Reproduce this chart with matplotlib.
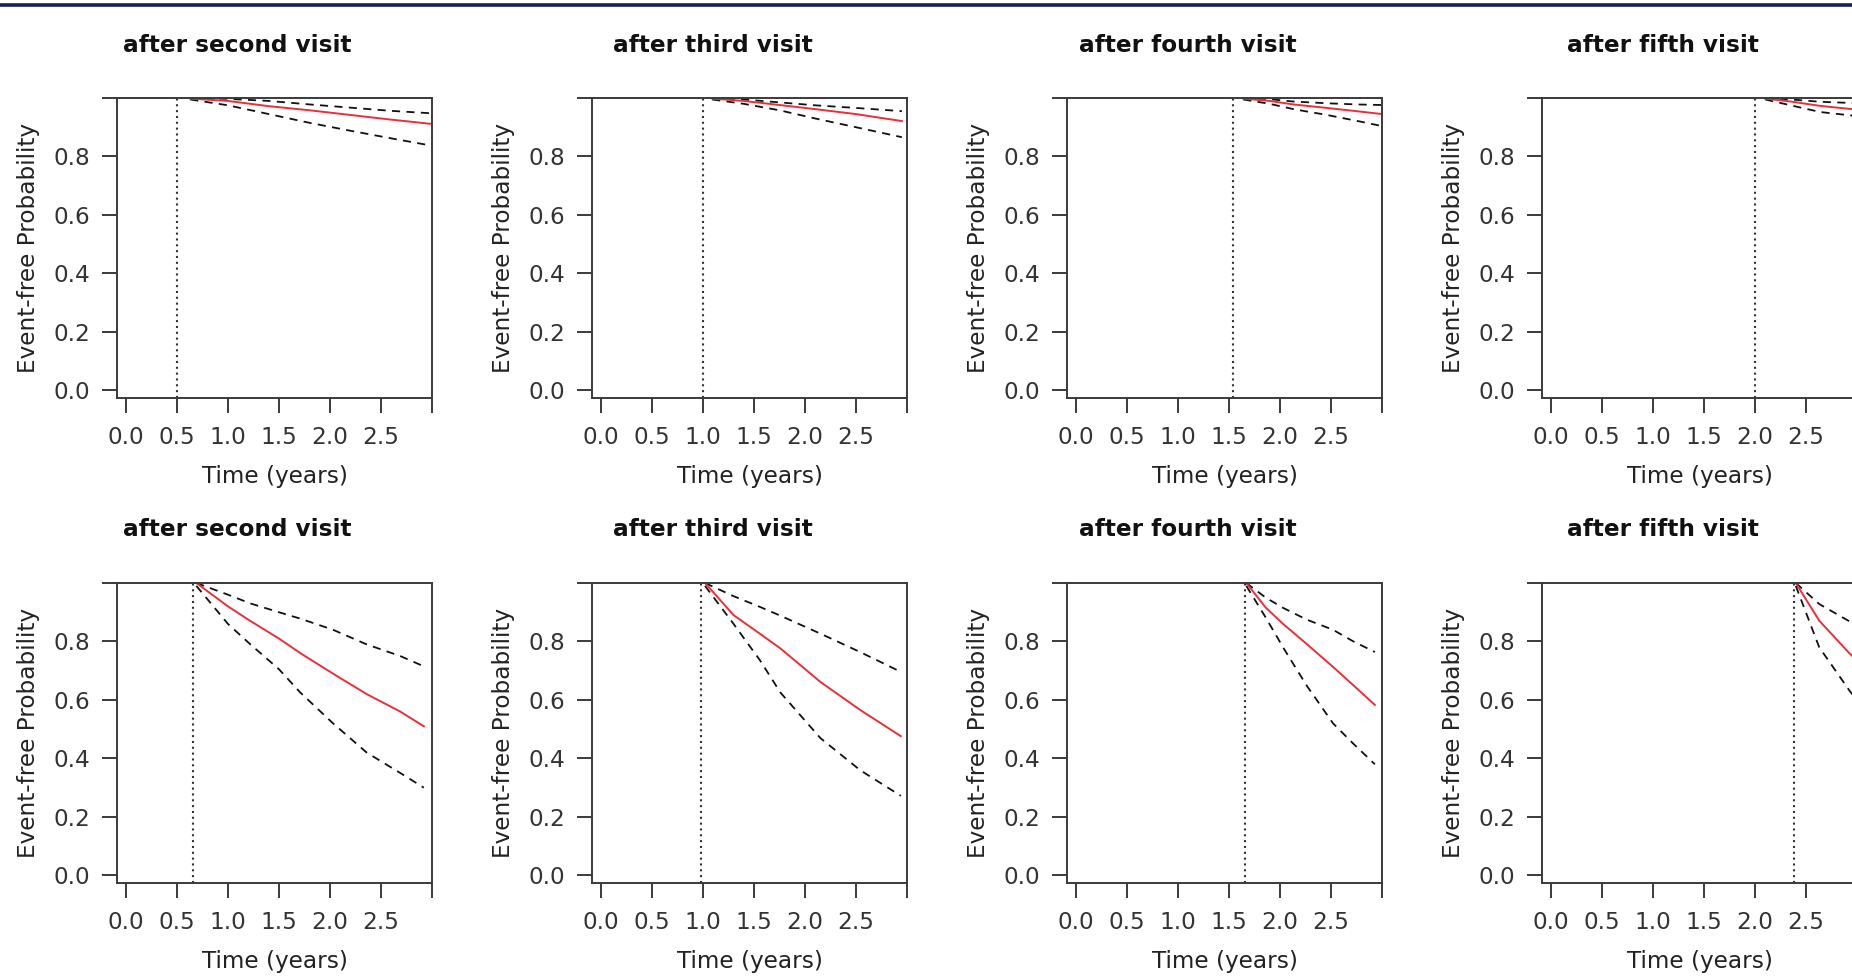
import matplotlib
matplotlib.use("Agg")
import matplotlib.pyplot as plt
from matplotlib.lines import Line2D

W, H = 1852, 977

titles = ["after second visit", "after third visit", "after fourth visit", "after fifth visit"]
xticks = [0.0, 0.5, 1.0, 1.5, 2.0, 2.5, 3.0]
xticklabels = ["0.0", "0.5", "1.0", "1.5", "2.0", "2.5", ""]
yticks = [0.0, 0.2, 0.4, 0.6, 0.8, 1.0]
yticklabels = ["0.0", "0.2", "0.4", "0.6", "0.8", ""]

# landmark (visit) times, dotted vertical lines
top_visit = [0.5, 1.0, 1.54, 2.0]
bottom_visit = [0.66, 0.985, 1.66, 2.38]

# top row: time, estimate, upper, lower
t_top1 = [0.63, 1.0, 1.4, 1.8, 2.2, 2.6, 2.98]
est_top1 = [0.998, 0.99, 0.972, 0.958, 0.942, 0.926, 0.912]
up_top1 = [1.0, 0.997, 0.99, 0.978, 0.967, 0.956, 0.948]
lo_top1 = [0.995, 0.975, 0.945, 0.915, 0.888, 0.862, 0.838]

t_top2 = [1.09, 1.4, 1.75, 2.1, 2.5, 2.95]
est_top2 = [0.998, 0.99, 0.976, 0.962, 0.945, 0.921]
up_top2 = [1.0, 0.995, 0.985, 0.975, 0.966, 0.955]
lo_top2 = [0.995, 0.98, 0.958, 0.93, 0.9, 0.866]

t_top3 = [1.64, 1.9, 2.13, 2.46, 2.75, 3.0]
est_top3 = [0.998, 0.99, 0.978, 0.966, 0.955, 0.945]
up_top3 = [1.0, 0.996, 0.988, 0.982, 0.978, 0.976]
lo_top3 = [0.995, 0.98, 0.962, 0.942, 0.922, 0.904]

t_top4 = [2.1, 2.35, 2.64, 2.95, 3.0]
est_top4 = [0.998, 0.988, 0.973, 0.962, 0.96]
up_top4 = [1.0, 0.995, 0.987, 0.983, 0.982]
lo_top4 = [0.995, 0.975, 0.952, 0.94, 0.937]

# bottom row
t_bot1 = [0.69, 1.0, 1.22, 1.5, 1.71, 2.03, 2.36, 2.69, 2.92]
est_bot1 = [1.0, 0.92, 0.87, 0.81, 0.76, 0.69, 0.62, 0.56, 0.51]
up_bot1 = [1.0, 0.96, 0.93, 0.9, 0.878, 0.84, 0.79, 0.75, 0.715]
lo_bot1 = [0.99, 0.86, 0.79, 0.705, 0.625, 0.52, 0.42, 0.35, 0.3]

t_bot2 = [1.02, 1.3, 1.56, 1.76, 2.15, 2.54, 2.94]
est_bot2 = [1.0, 0.89, 0.826, 0.776, 0.662, 0.566, 0.476]
up_bot2 = [1.0, 0.955, 0.918, 0.888, 0.827, 0.764, 0.696]
lo_bot2 = [0.99, 0.86, 0.735, 0.625, 0.47, 0.36, 0.272]

t_bot3 = [1.67, 1.86, 2.03, 2.26, 2.52, 2.72, 2.93]
est_bot3 = [1.0, 0.916, 0.86, 0.792, 0.713, 0.65, 0.583]
up_bot3 = [1.0, 0.95, 0.915, 0.875, 0.84, 0.8, 0.764]
lo_bot3 = [0.99, 0.882, 0.78, 0.65, 0.52, 0.45, 0.38]

t_bot4 = [2.4, 2.63, 2.93, 3.0]
est_bot4 = [1.0, 0.871, 0.758, 0.735]
up_bot4 = [1.0, 0.928, 0.868, 0.855]
lo_bot4 = [0.99, 0.78, 0.63, 0.6]

rows = [
    (top_visit, [(t_top1, est_top1, up_top1, lo_top1), (t_top2, est_top2, up_top2, lo_top2),
                 (t_top3, est_top3, up_top3, lo_top3), (t_top4, est_top4, up_top4, lo_top4)]),
    (bottom_visit, [(t_bot1, est_bot1, up_bot1, lo_bot1), (t_bot2, est_bot2, up_bot2, lo_bot2),
                    (t_bot3, est_bot3, up_bot3, lo_bot3), (t_bot4, est_bot4, up_bot4, lo_bot4)]),
]

plt.rcParams["font.family"] = "DejaVu Sans"
fs = 16.7
axcol = "#3a3a3a"
txtcol = "#333333"

fig = plt.figure(figsize=(W / 100, H / 100), dpi=100)
fig.patch.set_facecolor("white")

# navy rule at the top
fig.add_artist(Line2D([0, 1], [1 - 5 / H, 1 - 5 / H], color="#15205a", lw=2.6,
                      transform=fig.transFigure))

box_left = [117, 592, 1067, 1542]
box_top = [98, 583]
bw, bh = 315, 300

for r, (visits, panels) in enumerate(rows):
    for c, (t, est, up, lo) in enumerate(panels):
        x0 = box_left[c]
        y0 = box_top[r]
        ax = fig.add_axes([x0 / W, 1 - (y0 + bh) / H, bw / W, bh / H])
        ax.set_xlim(-0.088, 3.0)
        ax.set_ylim(-0.026, 1.0)
        ax.plot(t, up, color="#111111", lw=1.3, ls=(0, (4.5, 3.5)))
        ax.plot(t, lo, color="#111111", lw=1.3, ls=(0, (4.5, 3.5)))
        ax.plot(t, est, color="#e8303a", lw=1.4)
        ax.axvline(visits[c], color="#333333", lw=1.5, ls=(0, (1, 1.8)))

        ax.set_xticks(xticks)
        ax.set_xticklabels(xticklabels)
        ax.set_yticks(yticks)
        ax.set_yticklabels(yticklabels)
        ax.tick_params(direction="out", length=10.5, width=1.4, color=axcol,
                       labelsize=fs, labelcolor=txtcol)
        ax.tick_params(axis="x", pad=9.5)
        ax.tick_params(axis="y", pad=9)
        for s in ax.spines.values():
            s.set_color(axcol)
            s.set_linewidth(1.4)
        ax.set_xlabel("Time (years)", fontsize=fs, color="#222222", labelpad=12)
        ax.set_ylabel("Event-free Probability", fontsize=fs, color="#222222", labelpad=9.5)

        fig.text((x0 + bw / 2 - 37) / W, 1 - (45 + 485 * r) / H, titles[c],
                 ha="center", va="center", fontsize=fs, fontweight="bold", color="#111111")

fig.savefig("out.png", dpi=100, facecolor="white")
